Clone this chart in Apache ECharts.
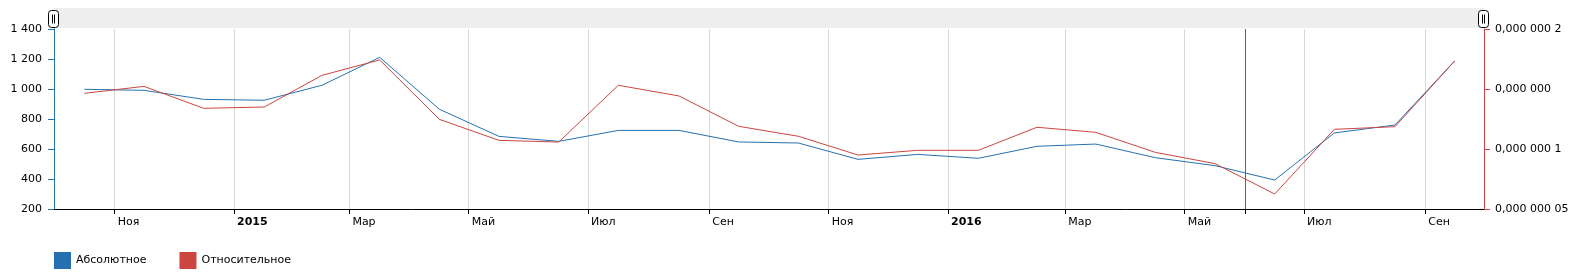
<!DOCTYPE html>
<html>
<head>
<meta charset="utf-8">
<script src="https://cdn.jsdelivr.net/npm/echarts@6/dist/echarts.min.js"></script>
<style>
html,body{margin:0;padding:0;background:#fff;}
#chart{width:1583px;height:275px;}
</style>
</head>
<body>
<div id="chart"></div>
<script>
// ---- data ----
const months = ['2014-10','2014-11','2014-12','2015-01','2015-02','2015-03','2015-04','2015-05','2015-06','2015-07','2015-08','2015-09',
                '2015-10','2015-11','2015-12','2016-01','2016-02','2016-03','2016-04','2016-05','2016-06','2016-07','2016-08','2016-09'];
const absoluteValues = [998, 991, 931, 925, 1025, 1211, 865, 684, 651, 724, 724, 647,
                        640, 531, 564, 538, 618, 633, 542, 489, 393, 707, 760, 1187];
const relativeValues = [1.464e-7, 1.522e-7, 1.339e-7, 1.350e-7, 1.614e-7, 1.742e-7, 1.247e-7, 1.072e-7, 1.058e-7, 1.531e-7, 1.442e-7, 1.189e-7,
                        1.106e-7, 0.950e-7, 0.989e-7, 0.989e-7, 1.181e-7, 1.139e-7, 0.972e-7, 0.878e-7, 0.625e-7, 1.164e-7, 1.186e-7, 1.733e-7];
const seriesNames = ['Абсолютное', 'Относительное'];
const xTickMonths = ['2014-11','2015-01','2015-03','2015-05','2015-07','2015-09','2015-11','2016-01','2016-03','2016-05','2016-07','2016-09'];
const monthNames = ['Янв','Фев','Мар','Апр','Май','Июн','Июл','Авг','Сен','Окт','Ноя','Дек'];
const leftTickLabels = ['200','400','600','800','1 000','1 200','1 400'];
const rightTickLabels = ['0,000 000 05','0,000 000 1','0,000 000','0,000 000 2'];
const cursorMonth = '2016-06';
const axisRange = ['2014-10','2016-10'];

// ---- helpers ----
function monthStart(s){ const [y,m] = s.split('-').map(Number); return new Date(y, m-1, 1).getTime(); }
function monthMid(s){ const [y,m] = s.split('-').map(Number); const a = new Date(y,m-1,1).getTime(), b = new Date(y,m,1).getTime(); return (a+b)/2; }

const FONT = 'DejaVu Sans';
const BLUE = '#2571b0';
const RED = '#cc4541';

const absData = months.map((m,i)=>[monthMid(m), absoluteValues[i]]);
const relData = months.map((m,i)=>[monthMid(m), relativeValues[i]]);
const labelVals = xTickMonths.map(monthStart);
const tickVals = labelVals.concat([monthStart(cursorMonth)]);

function grip(x){
  return {type: 'group', x: x, y: 10, z: 20, children: [
    {type: 'rect', z: 20, shape: {x: 0.5, y: 0.5, width: 10, height: 17, r: 3}, style: {fill: '#fff', stroke: '#000', lineWidth: 1}},
    {type: 'line', z: 21, shape: {x1: 4.5, y1: 4.5, x2: 4.5, y2: 13.5}, style: {stroke: '#000', lineWidth: 1}},
    {type: 'line', z: 21, shape: {x1: 6.5, y1: 4.5, x2: 6.5, y2: 13.5}, style: {stroke: '#000', lineWidth: 1}}
  ]};
}

const chart = echarts.init(document.getElementById('chart'), null, {renderer:'canvas'});
const option = {
  animation: false,
  textStyle: {fontFamily: FONT},
  grid: {left: 54, right: 99, top: 29, bottom: 66, containLabel: false},
  legend: {
    left: 54, top: 252, padding: 0, itemWidth: 17, itemHeight: 17, itemGap: 33, icon: 'rect',
    textStyle: {fontFamily: FONT, fontSize: 11, color: '#000'},
    data: seriesNames
  },
  xAxis: {
    type: 'value',
    min: monthStart(axisRange[0]), max: monthStart(axisRange[1]),
    axisLine: {lineStyle: {color: '#000', width: 1}},
    axisTick: {show: true, length: 5, lineStyle: {color: '#000'}, customValues: tickVals},
    splitLine: {show: true, lineStyle: {color: '#d8d8d8', width: 1}},
    axisLabel: {
      customValues: labelVals,
      align: 'left', margin: 8, padding: [0,0,0,3],
      fontFamily: FONT, fontSize: 11, color: '#000',
      formatter: function(v){
        const d = new Date(v);
        if (d.getMonth() === 0) return '{y|' + d.getFullYear() + '}';
        return monthNames[d.getMonth()];
      },
      rich: {y: {fontWeight: 'bold', fontFamily: FONT, fontSize: 11, color: '#000'}}
    }
  },
  yAxis: [
    {
      type: 'value', min: 200, max: 1400, interval: 200, position: 'left',
      axisLine: {show: true, lineStyle: {color: BLUE}},
      axisTick: {show: true, length: 6, lineStyle: {color: BLUE}},
      splitLine: {show: false},
      axisLabel: {margin: 12, fontFamily: FONT, fontSize: 11, color: '#000',
        formatter: function(v){ return leftTickLabels[Math.round((v-200)/200)]; }}
    },
    {
      type: 'value', min: 0.5e-7, max: 2e-7, interval: 0.5e-7, position: 'right',
      axisLine: {show: true, lineStyle: {color: RED}},
      axisTick: {show: true, length: 6, lineStyle: {color: RED}},
      splitLine: {show: false},
      axisLabel: {margin: 11, fontFamily: FONT, fontSize: 11, color: '#000',
        formatter: function(v){ return rightTickLabels[Math.round(v/0.5e-7)-1]; }}
    }
  ],
  series: [
    {
      name: seriesNames[0], type: 'line', yAxisIndex: 0, data: absData,
      showSymbol: false, symbol: 'none', color: BLUE,
      lineStyle: {width: 1, color: BLUE},
      markLine: {
        silent: true, symbol: 'none', label: {show: false},
        lineStyle: {color: BLUE, width: 1, type: 'solid'},
        data: [{xAxis: monthStart(cursorMonth)}]
      }
    },
    {
      name: seriesNames[1], type: 'line', yAxisIndex: 1, data: relData,
      showSymbol: false, symbol: 'none', color: RED,
      lineStyle: {width: 1, color: RED}
    }
  ],
  graphic: [
    {type: 'rect', x: 54, y: 8, z: 1, shape: {width: 1430, height: 20}, style: {fill: '#eeeeee'}},
    grip(48),
    grip(1478)
  ]
};
chart.setOption(option);
</script>
</body>
</html>
